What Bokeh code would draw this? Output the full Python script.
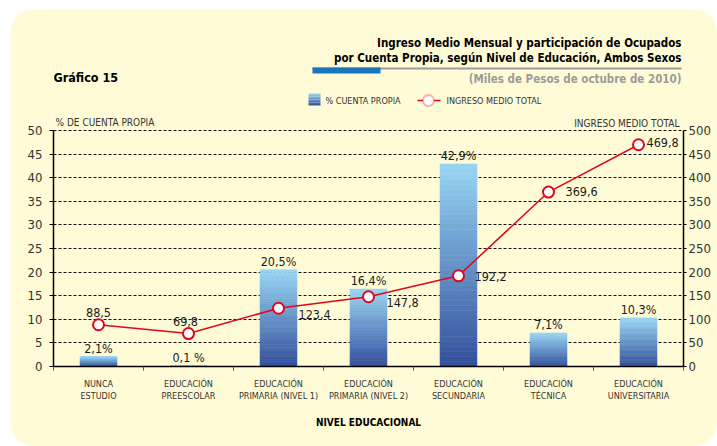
from bokeh.plotting import figure
from bokeh.models import Range1d, LinearAxis, FixedTicker, Label, BoxAnnotation, ColumnDataSource
from bokeh.core.properties import value
from bokeh.embed import file_html
from bokeh.resources import INLINE

# ---------------- data ----------------
categories = ["NUNCA\nESTUDIO", "EDUCACIÓN\nPREESCOLAR", "EDUCACIÓN\nPRIMARIA (NIVEL 1)",
              "EDUCACIÓN\nPRIMARIA (NIVEL 2)", "EDUCACIÓN\nSECUNDARIA", "EDUCACIÓN\nTÉCNICA",
              "EDUCACIÓN\nUNIVERSITARIA"]
pct_cuenta_propia = [2.1, 0.1, 20.5, 16.4, 42.9, 7.1, 10.3]
ingreso_medio = [88.5, 69.8, 123.4, 147.8, 192.2, 369.6, 469.8]
pct_labels = ["2,1%", "0,1 %", "20,5%", "16,4%", "42,9%", "7,1%", "10,3%"]
ingreso_labels = ["88,5", "69,8", "123,4", "147,8", "192,2", "369,6", "469,8"]
left_ticks = [0, 5, 10, 15, 20, 25, 30, 35, 40, 45, 50]
right_ticks = [0, 50, 100, 150, 200, 250, 300, 350, 400, 450, 500]

# label placement (styling only)
ing_x_off = [0, -3, 20, 18, 16, 17, 8]
ing_y_off = [-12, -12, 6, 6, 1, -1, -2]
ing_align = ["center", "center", "left", "left", "left", "left", "left"]

# ---------------- style ----------------
FONT = "'Liberation Sans Narrow', 'DejaVu Sans Condensed', sans-serif"
YEL = "#FFFBD6"
RED = "#E2061C"
LIGHT = (152, 214, 244)
DARK = (50, 78, 155)
OX, OY = 10, 9                    # page position of the panel
W, H = 717 - OX, 446 - OY
AXL, AXR, ZERO = 53, 683, 366     # page x of left/right axes, page y of zero line
PX50 = 236                        # pixels from 0 to 50 %
L = AXL - OX
FW = AXR - AXL
R = W - L - FW
T = 0
FH = ZERO - OY
B = H - T - FH
NCAT = len(categories)
YTOP = 50 * FH / PX50             # frame top in % units (axes stop at 50 / 500)


def dx(px):
    return (px - AXL) / FW * NCAT


def dy(py):
    return (ZERO - py) / PX50 * 50


def mix(t):
    c = [round(DARK[j] + (LIGHT[j] - DARK[j]) * t) for j in range(3)]
    return "#%02x%02x%02x" % tuple(c)


p = figure(width=W, height=H, x_range=Range1d(0, NCAT), y_range=Range1d(0, YTOP),
           output_backend="svg", toolbar_location=None,
           min_border_left=L, min_border_right=R, min_border_top=T, min_border_bottom=B,
           background_fill_color=YEL, border_fill_color=YEL, outline_line_color=None)
p.margin = (OY, 0, 0, OX)
p.styles = {"border-radius": "24px", "overflow": "hidden"}
p.extra_y_ranges = {"inc": Range1d(0, YTOP * 10)}

# axes
centers = [i + 0.5 for i in range(NCAT)]
xa = p.xaxis[0]
xa.ticker = FixedTicker(ticks=centers, minor_ticks=list(range(NCAT + 1)))
xa.major_label_overrides = {c: lab for c, lab in zip(centers, categories)}
xa.major_tick_out = 0
xa.major_tick_in = 0
xa.minor_tick_out = 4
xa.minor_tick_in = 0
xa.minor_tick_line_color = "#555555"
xa.axis_line_width = 1.5
xa.axis_line_color = "black"
xa.major_label_standoff = 8
xa.major_label_text_font = FONT
xa.major_label_text_font_size = "9px"
xa.major_label_text_color = "#333333"
xa.axis_label = "NIVEL EDUCACIONAL"
xa.axis_label_standoff = 13
xa.axis_label_text_font = FONT
xa.axis_label_text_font_size = "10px"
xa.axis_label_text_font_style = "bold"
xa.axis_label_text_color = "black"

ya = p.yaxis[0]
ya.ticker = FixedTicker(ticks=left_ticks)
ya.bounds = (0, 50)
ya.major_tick_out = 4
ya.major_tick_in = 0
ya.minor_tick_line_color = None
ya.axis_line_width = 1.5
ya.axis_line_color = "black"
ya.major_label_standoff = 7
ya.major_label_text_font = FONT
ya.major_label_text_font_size = "13px"
ya.major_label_text_color = "#333333"

ra = LinearAxis(y_range_name="inc", ticker=FixedTicker(ticks=right_ticks), bounds=(0, 500))
ra.major_tick_out = 3
ra.major_tick_in = 0
ra.minor_tick_line_color = None
ra.axis_line_width = 1.5
ra.axis_line_color = "black"
ra.major_label_standoff = 2
ra.major_label_text_font = FONT
ra.major_label_text_font_size = "13px"
ra.major_label_text_color = "#333333"
p.add_layout(ra, "right")

p.xgrid.grid_line_color = None
p.ygrid.ticker = FixedTicker(ticks=left_ticks)
p.ygrid.grid_line_color = "#111111"
p.ygrid.grid_line_dash = "3 2"
p.ygrid.grid_line_width = 1

# gradient bars
N = 40
bx, bb, bt, bc = [], [], [], []
for i, v in enumerate(pct_cuenta_propia):
    for k in range(N):
        bx.append(centers[i])
        bb.append(v * k / N)
        bt.append(v * (k + 1) / N)
        bc.append(mix((k + 0.5) / N))
p.vbar(x=bx, bottom=bb, top=bt, width=0.41, fill_color=bc, line_color=bc, line_width=0.6)

# bar labels
p.text(x=centers, y=pct_cuenta_propia, text=pct_labels, text_align="center",
       text_baseline="bottom", y_offset=-1, text_font=value(FONT),
       text_font_size="12.5px", text_color="#1a1a1a")

# income line
p.line(x=centers, y=ingreso_medio, y_range_name="inc", line_color=RED, line_width=1.5)
p.scatter(x=centers, y=ingreso_medio, y_range_name="inc", size=11, fill_color="white",
          line_color=RED, line_width=2)
src = ColumnDataSource(dict(x=centers, y=ingreso_medio, t=ingreso_labels,
                            xo=ing_x_off, yo=ing_y_off, al=ing_align))
p.text(x="x", y="y", text="t", x_offset="xo", y_offset="yo", text_align="al",
       text_baseline="middle", source=src, y_range_name="inc",
       text_font=value(FONT), text_font_size="12.5px", text_color="#1a1a1a")


def lab(x, y, text, size, align="left", bold=False, color="black"):
    p.add_layout(Label(x=dx(x), y=dy(y), text=text, text_align=align, text_baseline="middle",
                       text_font=FONT, text_font_size=size,
                       text_font_style="bold" if bold else "normal", text_color=color))


lab(681, 42, "Ingreso Medio Mensual y participación de Ocupados", "11.5px", "right", True)
lab(681, 57, "por Cuenta Propia, según Nivel de Educación, Ambos Sexos", "11.5px", "right", True)
lab(53, 77, "Gráfico 15", "12.5px", "left", True)
lab(681, 78, "(Miles de Pesos de octubre de 2010)", "11.5px", "right", True, "#9B9B9B")
lab(55, 122, "% DE CUENTA PROPIA", "10px", "left", False, "#333333")
lab(679, 123, "INGRESO MEDIO TOTAL", "10px", "right", False, "#333333")
lab(325, 100, "% CUENTA PROPIA", "9px", "left", False, "#333333")
lab(446, 100, "INGRESO MEDIO TOTAL", "9px", "left", False, "#333333")

# title underline
p.add_layout(BoxAnnotation(left=dx(312), right=dx(681), top=dy(67), bottom=dy(69),
                           fill_color="#9C9C9C", fill_alpha=1, line_color=None))
p.add_layout(BoxAnnotation(left=dx(312), right=dx(380), top=dy(67), bottom=dy(73),
                           fill_color="#1B75BC", fill_alpha=1, line_color=None))

# legend swatch (gradient)
NS = 8
for k in range(NS):
    p.add_layout(BoxAnnotation(left=dx(308), right=dx(320),
                               bottom=dy(105 - 12 * k / NS), top=dy(105 - 12 * (k + 1) / NS),
                               fill_color=mix((k + 0.5) / NS), fill_alpha=1, line_color=None))
# legend line + marker
p.add_layout(BoxAnnotation(left=dx(417), right=dx(440), top=dy(99.2), bottom=dy(100.8),
                           fill_color=RED, fill_alpha=1, line_color=None))
p.add_layout(BoxAnnotation(left=dx(422.5), right=dx(433.5), top=dy(94.5), bottom=dy(105.5),
                           fill_color="white", fill_alpha=1, line_color=RED, line_width=2,
                           border_radius=6))

open("out.html", "w").write(file_html(p, INLINE))
